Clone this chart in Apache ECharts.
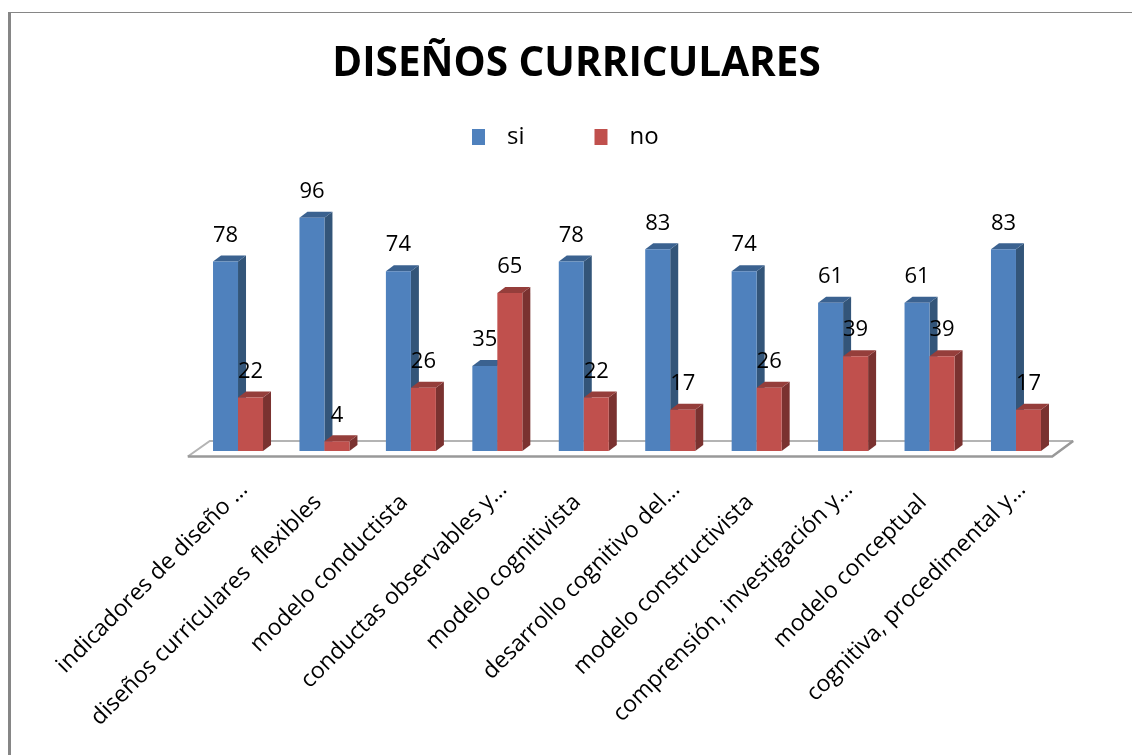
<!DOCTYPE html>
<html>
<head>
<meta charset="utf-8">
<script src="https://cdn.jsdelivr.net/npm/echarts@6/dist/echarts.min.js"></script>
<style>
  html, body { margin: 0; padding: 0; background: #fff; }
  #chart { width: 1132px; height: 755px; }
</style>
</head>
<body>
<div id="chart"></div>
<script>
const categories = [
  'indicadores de diseño …',
  'diseños curriculares  flexibles',
  'modelo conductista',
  'conductas observables y…',
  'modelo cognitivista',
  'desarrollo cognitivo del…',
  'modelo constructivista',
  'comprensión, investigación y…',
  'modelo conceptual',
  'cognitiva, procedimental y…'
]
const si = [78, 96, 74, 35, 78, 83, 74, 61, 61, 83]
const no = [22, 4, 26, 65, 22, 17, 26, 39, 39, 17]

const fontName = '"Open Sans", sans-serif'
const barW = 25
const depthX = 8
const depthY = 6

// one 3d looking column: front, side and top faces plus the value on top
function bar3d(side, colors) {
  return function (params, api) {
    const top = api.coord([api.value(0), api.value(1)])
    const base = api.coord([api.value(0), 0])
    const x = side < 0 ? top[0] - barW : top[0]
    const y = top[1]
    const b = base[1]
    return {
      type: 'group',
      children: [
        { type: 'polygon', shape: { points: [[x + barW, y], [x + barW + depthX, y - depthY], [x + barW + depthX, b - depthY], [x + barW, b]] }, style: { fill: colors[1] } },
        { type: 'polygon', shape: { points: [[x, y], [x + depthX, y - depthY], [x + barW + depthX, y - depthY], [x + barW, y]] }, style: { fill: colors[2] } },
        { type: 'rect', shape: { x: x, y: y, width: barW, height: b - y }, style: { fill: colors[0] } },
        { type: 'text', z2: 10, style: { text: String(api.value(1)), x: x + barW / 2, y: y - 26, fill: '#000', font: '22px ' + fontName, align: 'center', verticalAlign: 'middle' } }
      ]
    }
  }
}

// the floor of the plot, taken from first and last category
function floor(params, api) {
  const band = api.size([1, 0])[0]
  const left = api.coord([0, 0])
  const right = api.coord([categories.length - 1, 0])
  const x0 = left[0] - band / 2
  const x1 = right[0] + band / 2
  const y = left[1]
  return {
    type: 'group',
    children: [
      { type: 'polyline', shape: { points: [[x0 - 7, y + 5.5], [x0 + 15, y - 10], [x1 + 14, y - 10]] }, style: { fill: 'none', stroke: '#b4b4b4', lineWidth: 2 } },
      { type: 'polyline', shape: { points: [[x0 - 7, y + 5.5], [x1 - 7, y + 5.5], [x1 + 14, y - 10]] }, style: { fill: 'none', stroke: '#999999', lineWidth: 2.5 } }
    ]
  }
}

const chart = echarts.init(document.getElementById('chart'))
chart.setOption({
  animation: false,
  backgroundColor: '#fff',
  textStyle: { fontFamily: fontName },
  title: {
    text: 'DISEÑOS CURRICULARES',
    left: 571.5,
    top: 39,
    textAlign: 'center',
    textStyle: { fontFamily: fontName, fontSize: 40.5, fontWeight: 'bold', color: '#000' }
  },
  legend: {
    data: ['si', 'no'],
    left: 467,
    top: 120,
    icon: 'rect',
    itemWidth: 13,
    itemHeight: 16,
    itemGap: 70,
    textStyle: { fontFamily: fontName, fontSize: 24, color: '#000', padding: [0, 0, 0, 17] }
  },
  // second grid only carries the slanted labels, a little to the right of the bars
  grid: [
    { left: 194.8, right: 72.8, top: 208, bottom: 304 },
    { left: 200.8, right: 66.8, top: 208, bottom: 304 }
  ],
  xAxis: [
    { type: 'category', data: categories, axisLine: { show: false }, axisTick: { show: false }, axisLabel: { show: false } },
    {
      type: 'category',
      gridIndex: 1,
      data: categories,
      axisLine: { show: false },
      axisTick: { show: false },
      axisLabel: {
        rotate: 45,
        interval: 0,
        margin: 35,
        fontSize: 23,
        color: '#000',
        fontFamily: fontName,
        // full names sit a bit further down the slant than the cut ones
        formatter: v => v.endsWith('…') ? v : v + '   '
      }
    }
  ],
  yAxis: [
    { type: 'value', min: 0, max: 100, show: false, splitLine: { show: false } },
    { type: 'value', gridIndex: 1, min: 0, max: 100, show: false, splitLine: { show: false } }
  ],
  graphic: [
    { type: 'line', shape: { x1: 9.5, y1: 13, x2: 9.5, y2: 755 }, style: { stroke: '#868686', lineWidth: 3 } },
    { type: 'line', shape: { x1: 8, y1: 12.5, x2: 1132, y2: 12.5 }, style: { stroke: '#868686', lineWidth: 1 } }
  ],
  series: [
    { name: 'floor', type: 'custom', renderItem: floor, data: [[0, 0]], encode: { x: 0, y: 1 }, z: 1, silent: true },
    { name: 'si', type: 'custom', renderItem: bar3d(-1, ['#4f81bd', '#335579', '#3b6290']), itemStyle: { color: '#4f81bd' }, data: si.map((v, i) => [i, v]), encode: { x: 0, y: 1 }, z: 2 },
    { name: 'no', type: 'custom', renderItem: bar3d(1, ['#c0504d', '#7a3230', '#953e3b']), itemStyle: { color: '#c0504d' }, data: no.map((v, i) => [i, v]), encode: { x: 0, y: 1 }, z: 3 }
  ]
})
</script>
</body>
</html>
